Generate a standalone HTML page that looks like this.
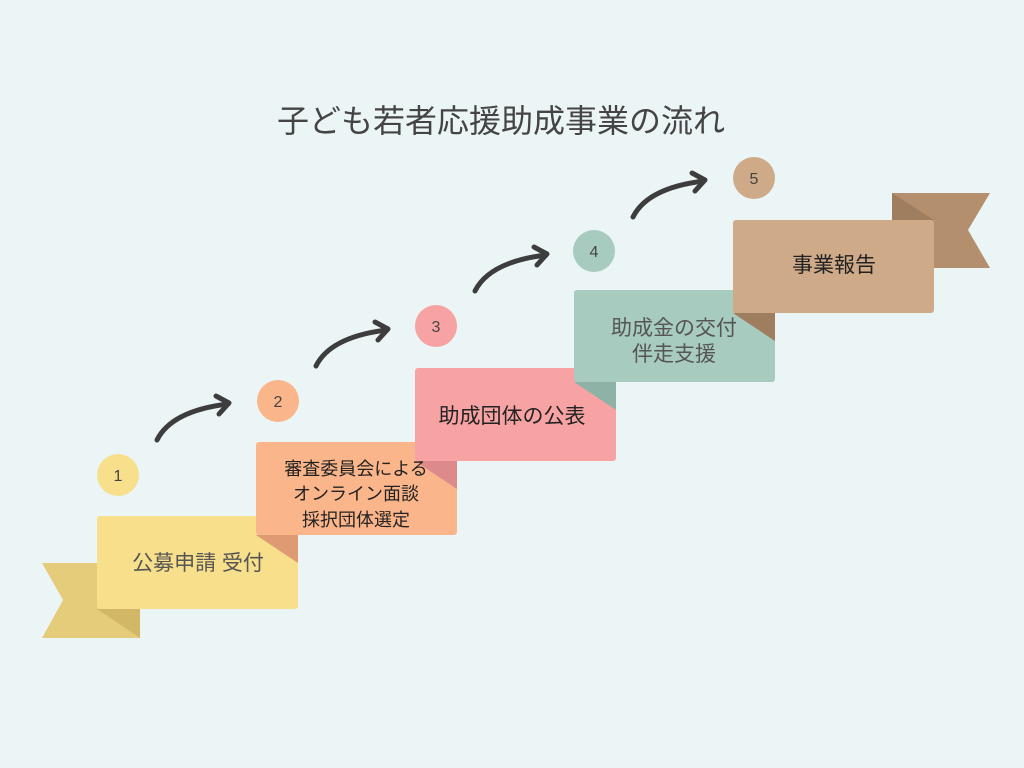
<!DOCTYPE html>
<html><head><meta charset="utf-8"><style>
html,body{margin:0;padding:0;background:#ecf5f6;}
svg{display:block}
text{font-family:"Liberation Sans","Noto Sans CJK JP",sans-serif;}
</style></head><body>
<svg width="1024" height="768" viewBox="0 0 1024 768" xmlns="http://www.w3.org/2000/svg">
<rect width="1024" height="768" fill="#ecf5f6"/>
<text x="501" y="132" font-size="32" fill="#444" text-anchor="middle">子ども若者応援助成事業の流れ</text>

<polygon points="42,563 140,563 140,638 42,638 63,600" fill="#e5cc7a"/>
<polygon points="97,609 140,609 140,638" fill="#d2b866"/>
<polygon points="892,193 990,193 968,230 990,268 892,268" fill="#b38f6e"/>
<polygon points="892,193 934,220 892,220" fill="#9f7e60"/>

<rect x="97" y="516" width="201" height="93" rx="3" fill="#f7df8c"/>
<rect x="256" y="442" width="201" height="93" rx="3" fill="#fbb58a"/>
<polygon points="256,535 298,535 298,563" fill="#dd9a73"/>
<rect x="415" y="368" width="201" height="93" rx="3" fill="#f7a3a3"/>
<polygon points="415,461 457,461 457,489" fill="#dc8a8a"/>
<rect x="574" y="290" width="201" height="92" rx="3" fill="#a8cbbf"/>
<polygon points="574,382 616,382 616,410" fill="#8fb2a6"/>
<rect x="733" y="220" width="201" height="93" rx="3" fill="#cfaa88"/>
<polygon points="733,313 775,313 775,341" fill="#9f7e60"/>

<circle cx="118" cy="475" r="21" fill="#f7df8c"/>
<circle cx="278" cy="401" r="21" fill="#fbb58a"/>
<circle cx="436" cy="326" r="21" fill="#f7a3a3"/>
<circle cx="594" cy="251" r="21" fill="#a8cbbf"/>
<circle cx="754" cy="178" r="21" fill="#cfaa88"/>
<g font-size="16" fill="#444" text-anchor="middle">
<text x="118" y="481">1</text>
<text x="278" y="407">2</text>
<text x="436" y="332">3</text>
<text x="594" y="257">4</text>
<text x="754" y="184">5</text>
</g>

<g fill="none" stroke="#3d3d3d" stroke-width="5" stroke-linecap="round" stroke-linejoin="round">
<g><path d="M157,440 C168,418 195,408 228,404"/><path d="M216,396 L229,403 L219,414"/></g>
<g transform="translate(159,-74)"><path d="M157,440 C168,418 195,408 228,404"/><path d="M216,396 L229,403 L219,414"/></g>
<g transform="translate(318,-149)"><path d="M157,440 C168,418 195,408 228,404"/><path d="M216,396 L229,403 L219,414"/></g>
<g transform="translate(476,-223)"><path d="M157,440 C168,418 195,408 228,404"/><path d="M216,396 L229,403 L219,414"/></g>
</g>

<g text-anchor="middle">
<text x="198" y="570" font-size="21" fill="#555">公募申請 受付</text>
<text x="356" y="475" font-size="18" fill="#222">審査委員会による</text>
<text x="356" y="500" font-size="18" fill="#222">オンライン面談</text>
<text x="356" y="526" font-size="18" fill="#222">採択団体選定</text>
<text x="512" y="423" font-size="21" fill="#222">助成団体の公表</text>
<text x="674" y="335" font-size="21" fill="#555">助成金の交付</text>
<text x="674" y="361" font-size="21" fill="#555">伴走支援</text>
<text x="834" y="272" font-size="21" fill="#222">事業報告</text>
</g>
</svg>
</body></html>
